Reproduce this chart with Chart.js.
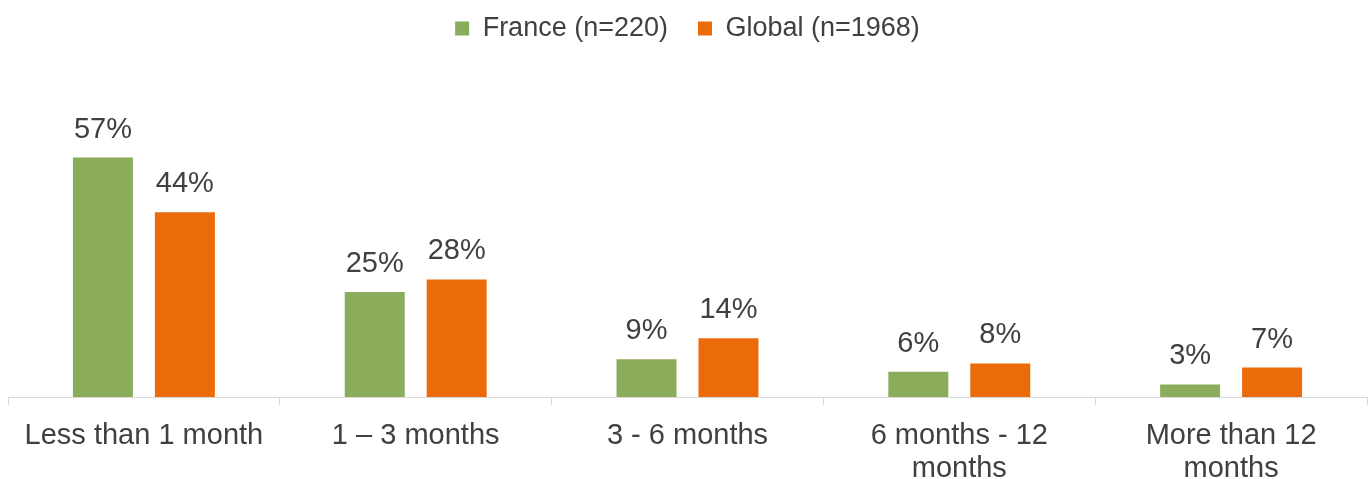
<!DOCTYPE html>
<html>
<head>
<meta charset="utf-8">
<script src="https://cdn.jsdelivr.net/npm/chart.js@4/dist/chart.umd.min.js"></script>
<style>
  html, body { margin: 0; padding: 0; background: #fff; }
  #wrap { width: 1372px; height: 479px; position: relative; }
</style>
</head>
<body>
<div id="wrap"><canvas id="durationChart"></canvas></div>
<script>
// Data
const categories = [
    'Less than 1 month',
    '1 \u2013 3 months',
    '3 - 6 months',
    ['6 months - 12', 'months'],
    ['More than 12', 'months']
];
const franceValues = [57, 25, 9, 6, 3];
const globalValues = [44, 28, 14, 8, 7];

const TEXT = '#404040';
const FONT = "'Liberation Sans', Arial, sans-serif";

// Push the plot area down below the legend
const legendSpacer = {
    id: 'legendSpacer',
    beforeInit(chart) {
        const fit = chart.legend.fit;
        chart.legend.fit = function () {
            fit.call(this);
            this.height += 93;
        };
    }
};

// Value labels above the bars
const barLabels = {
    id: 'barLabels',
    afterDatasetsDraw(chart) {
        const ctx = chart.ctx;
        ctx.save();
        ctx.font = '29px ' + FONT;
        ctx.fillStyle = TEXT;
        ctx.textAlign = 'center';
        ctx.textBaseline = 'middle';
        chart.data.datasets.forEach((ds, i) => {
            chart.getDatasetMeta(i).data.forEach((bar, j) => {
                ctx.fillText(ds.data[j] + '%', bar.x, bar.y - 28);
            });
        });
        ctx.restore();
    }
};

new Chart(document.getElementById('durationChart'), {
    type: 'bar',
    data: {
        labels: categories,
        datasets: [{
            label: 'France (n=220)',
            data: franceValues,
            backgroundColor: '#8BAC5A'
        }, {
            label: 'Global (n=1968)',
            data: globalValues,
            backgroundColor: '#EB6A0A'
        }]
    },
    options: {
        responsive: true,
        maintainAspectRatio: false,
        animation: false,
        categoryPercentage: 0.603,
        barPercentage: 0.732,
        layout: {
            padding: { left: 8, right: 5, top: -15, bottom: 0 }
        },
        plugins: {
            legend: {
                position: 'top',
                labels: {
                    boxWidth: 14,
                    boxHeight: 14,
                    padding: 30,
                    color: TEXT,
                    font: { family: FONT, size: 27 }
                }
            },
            tooltip: { enabled: false }
        },
        scales: {
            y: {
                display: false,
                min: 0,
                max: 60
            },
            x: {
                border: { color: '#D9D9D9', width: 1 },
                grid: {
                    drawOnChartArea: false,
                    color: '#D9D9D9',
                    tickLength: 8
                },
                ticks: {
                    color: TEXT,
                    padding: 14,
                    maxRotation: 0,
                    autoSkip: false,
                    font: { family: FONT, size: 29, lineHeight: 1.14 }
                },
                afterFit(scale) {
                    scale.height = 82;
                }
            }
        }
    },
    plugins: [legendSpacer, barLabels]
});
</script>
</body>
</html>
